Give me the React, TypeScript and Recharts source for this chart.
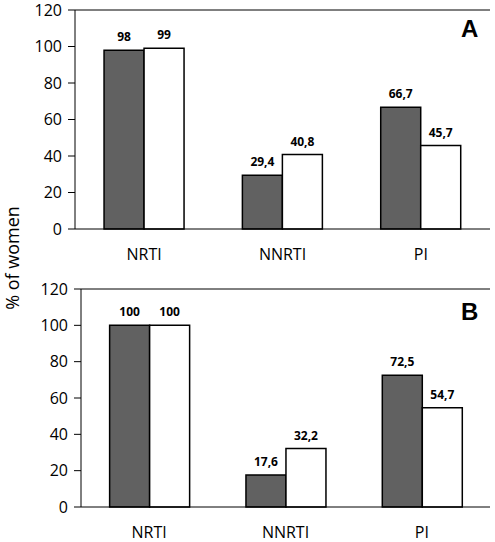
import React from "react";
import { BarChart, Bar, XAxis, YAxis, ReferenceLine, LabelList } from "recharts";

const drugClasses = ["NRTI", "NNRTI", "PI"];
const panelAFirst = [98, 29.4, 66.7];
const panelASecond = [99, 40.8, 45.7];
const panelBFirst = [100, 17.6, 72.5];
const panelBSecond = [100, 32.2, 54.7];
const yTicks = [0, 20, 40, 60, 80, 100, 120];
const boundaryTicks = [0, 1, 2, 3];

const FONT = "'Open Sans', sans-serif";

const buildRows = (first: number[], second: number[]) =>
  drugClasses.map((name, i) => ({ name, slot: i, first: first[i], second: second[i] }));

const fmt = (v: any) => String(v).replace(".", ",");

type PanelProps = {
  rows: { name: string; slot: number; first: number; second: number }[];
  height: number;
  bottom: number;
  axisWidth: number;
};

function Panel({ rows, height, bottom, axisWidth }: PanelProps) {
  return (
    <BarChart
      width={495}
      height={height}
      data={rows}
      margin={{ top: 10, right: 5, left: 0, bottom }}
      barCategoryGap="21%"
      barGap={0}
    >
      {/* baseline with ticks on the category boundaries */}
      <XAxis
        xAxisId="base"
        dataKey="slot"
        type="number"
        domain={[0, 3]}
        ticks={boundaryTicks}
        allowDataOverflow
        height={1}
        tick={false}
        tickSize={6}
        tickLine={{ stroke: "#000" }}
        axisLine={{ stroke: "#000" }}
      />
      <XAxis
        xAxisId="cat"
        dataKey="name"
        height={29}
        tickLine={false}
        tickMargin={13}
        axisLine={false}
        tick={{ fill: "#000", fontSize: 16, fontFamily: FONT }}
      />
      <YAxis
        width={axisWidth}
        domain={[0, 120]}
        ticks={yTicks}
        interval={0}
        tickSize={7}
        tickMargin={6}
        axisLine={{ stroke: "#000" }}
        tickLine={{ stroke: "#000" }}
        tick={{ fill: "#000", fontSize: 16, fontFamily: FONT }}
      />
      <YAxis
        yAxisId="frame"
        orientation="right"
        width={0}
        tick={false}
        tickLine={false}
        axisLine={{ stroke: "#000" }}
      />
      <ReferenceLine xAxisId="cat" y={120} stroke="#000" />
      <Bar xAxisId="cat" dataKey="first" fill="#616161" stroke="#000" strokeWidth={1.5} isAnimationActive={false}>
        <LabelList
          dataKey="first"
          position="top"
          offset={9}
          formatter={fmt}
          style={{ fontSize: 12, fontWeight: 700, fontFamily: FONT, fill: "#000" }}
        />
      </Bar>
      <Bar xAxisId="cat" dataKey="second" fill="#fff" stroke="#000" strokeWidth={1.5} isAnimationActive={false}>
        <LabelList
          dataKey="second"
          position="top"
          offset={9}
          formatter={fmt}
          style={{ fontSize: 12, fontWeight: 700, fontFamily: FONT, fill: "#000" }}
        />
      </Bar>
    </BarChart>
  );
}

const letterStyle: React.CSSProperties = {
  position: "absolute",
  left: 461,
  fontFamily: "'Liberation Sans', Arial, sans-serif",
  fontWeight: 700,
  fontSize: 24,
  lineHeight: "24px",
};

export default function App() {
  return (
    <div style={{ position: "absolute", left: 0, top: 0, width: 495, height: 542, background: "#fff" }}>
      <div style={{ position: "absolute", left: 0, top: 0 }}>
        <Panel rows={buildRows(panelAFirst, panelASecond)} height={270} bottom={11} axisWidth={75} />
      </div>
      <div style={{ position: "absolute", left: 0, top: 279 }}>
        <Panel rows={buildRows(panelBFirst, panelBSecond)} height={263} bottom={5} axisWidth={81} />
      </div>
      <div style={{ ...letterStyle, top: 17 }}>A</div>
      <div style={{ ...letterStyle, top: 300 }}>B</div>
      <div
        style={{
          position: "absolute",
          left: 12,
          top: 258,
          transform: "translate(-50%, -50%) rotate(-90deg)",
          whiteSpace: "nowrap",
          fontFamily: FONT,
          fontSize: 18,
        }}
      >
        % of women
      </div>
    </div>
  );
}
